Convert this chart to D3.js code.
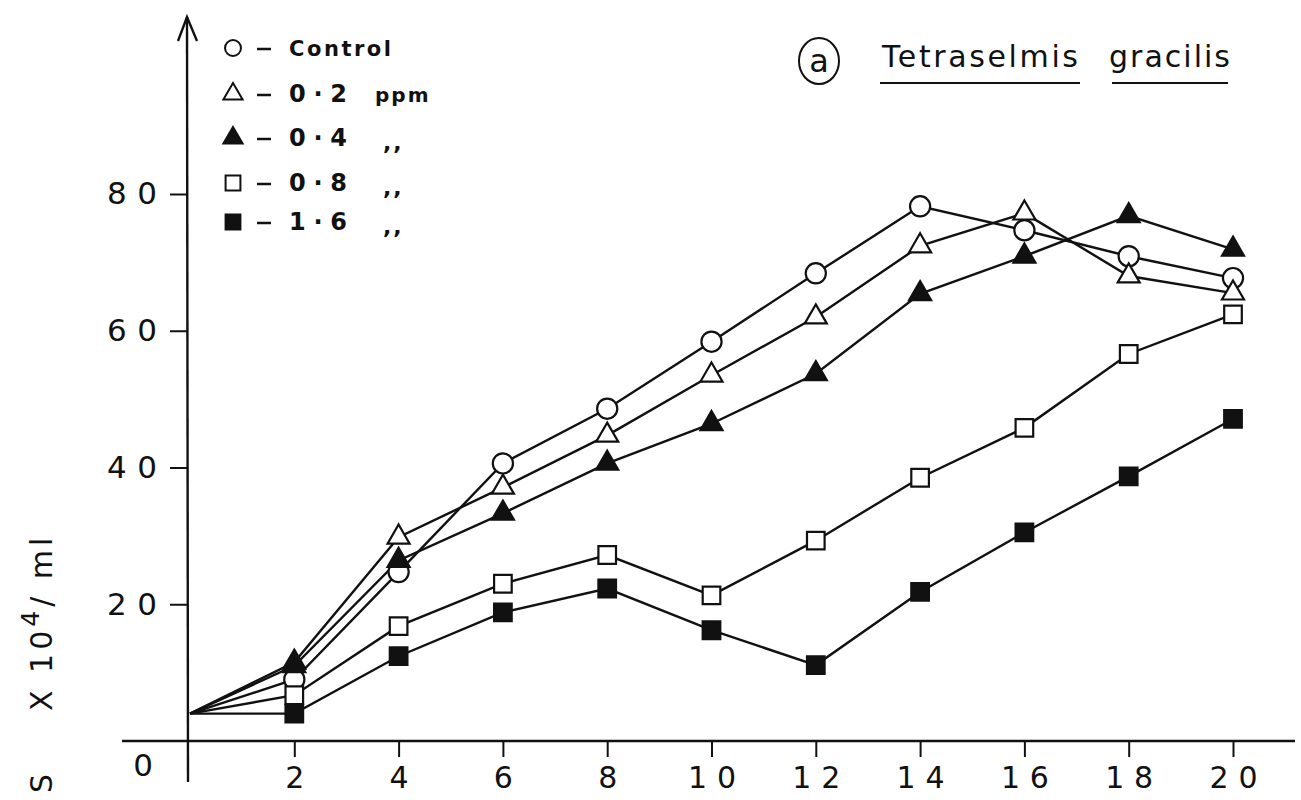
<!DOCTYPE html>
<html>
<head>
<meta charset="utf-8">
<script src="https://cdn.jsdelivr.net/npm/d3@7"></script>
<style>
  body { margin: 0; background: #fff; }
  svg { display: block; }
  text { fill: #111; font-family: "DejaVu Sans", sans-serif; }
  .tick line { stroke: #111; stroke-width: 2; }
</style>
</head>
<body>
<script>
// days of culture
var days = [0, 2, 4, 6, 8, 10, 12, 14, 16, 18, 20];

// cell counts (x 10^4 / ml)
var control = [4, 9.0, 24.7, 40.6, 48.6, 58.4, 68.4, 78.2, 74.7, 70.9, 67.7];
var ppm02   = [4, 11.5, 29.8, 37.1, 44.7, 53.5, 62.0, 72.4, 77.2, 68.0, 65.5];
var ppm04   = [4, 11.0, 26.4, 33.3, 40.6, 46.4, 53.7, 65.4, 70.9, 76.8, 71.9];
var ppm08   = [4, 6.7, 16.8, 23.0, 27.2, 21.3, 29.3, 38.5, 45.8, 56.6, 62.4];
var ppm16   = [4, 4.0, 12.4, 18.8, 22.3, 16.2, 11.1, 21.8, 30.5, 38.7, 47.1];

var xTicks = [2, 4, 6, 8, 10, 12, 14, 16, 18, 20];
var yTicks = [20, 40, 60, 80];

var series = [
  {name: "Control", unit: "", values: control, shape: d3.symbolCircle, filled: false},
  {name: "0·2", unit: "ppm", values: ppm02, shape: d3.symbolTriangle, filled: false},
  {name: "0·4", unit: ",,", values: ppm04, shape: d3.symbolTriangle, filled: true},
  {name: "0·8", unit: ",,", values: ppm08, shape: d3.symbolSquare, filled: false},
  {name: "1·6", unit: ",,", values: ppm16, shape: d3.symbolSquare, filled: true}
];

var width = 1301, height = 800;

var svg = d3.select("body").append("svg")
    .attr("width", width)
    .attr("height", height);

var x = d3.scaleLinear().domain([0, 20]).range([190, 1233]);
var y = d3.scaleLinear().domain([0, 80]).range([741, 194]);

// axes lines (y axis overshoots below, x axis runs left past origin)
svg.append("line")
    .attr("x1", 187).attr("y1", 17).attr("x2", 188).attr("y2", 782)
    .attr("stroke", "#111").attr("stroke-width", 2.4);
svg.append("path")
    .attr("d", "M178,41 L187,17 L197,41")
    .attr("fill", "none").attr("stroke", "#111").attr("stroke-width", 2.4);
svg.append("line")
    .attr("x1", 122).attr("y1", 741).attr("x2", 1295).attr("y2", 741)
    .attr("stroke", "#111").attr("stroke-width", 2.4);

var gx = svg.append("g")
    .attr("transform", "translate(0,741)")
    .call(d3.axisBottom(x).tickValues(xTicks).tickSize(16).tickPadding(10));
gx.select(".domain").remove();
gx.selectAll("text")
    .attr("font-size", 30)
    .attr("font-family", "DejaVu Sans")
    .each(function(d) {
      if (d >= 10) d3.select(this).attr("textLength", 48).attr("lengthAdjust", "spacing");
    });

var gy = svg.append("g")
    .attr("transform", "translate(187,0)")
    .call(d3.axisLeft(y).tickValues(yTicks).tickSize(17).tickPadding(13));
gy.select(".domain").remove();
gy.selectAll("text")
    .attr("font-size", 31)
    .attr("font-family", "DejaVu Sans")
    .attr("textLength", 50)
    .attr("lengthAdjust", "spacing");

svg.append("text")
    .attr("x", 143).attr("y", 776)
    .attr("text-anchor", "middle")
    .attr("font-size", 31)
    .text("0");

// y axis label, rotated
svg.append("text")
    .attr("transform", "translate(52,793) rotate(-90)")
    .attr("font-size", 30)
    .text("S");
var yl = svg.append("text")
    .attr("transform", "translate(52,711) rotate(-90)")
    .attr("font-size", 30)
    .attr("letter-spacing", 4);
yl.append("tspan").text("X  10");
yl.append("tspan").attr("dy", -13).attr("font-size", 25).text("4");
yl.append("tspan").attr("dy", 13).text("/   ml");

// lines
var line = d3.line()
    .x(function(d, i) { return x(days[i]); })
    .y(function(d) { return y(d); });

svg.selectAll(".series")
    .data(series)
  .enter().append("path")
    .attr("class", "series")
    .attr("d", function(s) { return line(s.values); })
    .attr("fill", "none")
    .attr("stroke", "#111")
    .attr("stroke-width", 2.4);

function symbolSize(shape, big) {
  if (shape === d3.symbolCircle) return big ? 320 : 200;
  if (shape === d3.symbolTriangle) return big ? 210 : 160;
  return big ? 310 : 220;
}

// markers (skip day 0 where all lines start together)
series.forEach(function(s) {
  svg.selectAll(null)
      .data(s.values.slice(1))
    .enter().append("path")
      .attr("transform", function(d, i) { return "translate(" + x(days[i + 1]) + "," + y(d) + ")"; })
      .attr("d", d3.symbol().type(s.shape).size(symbolSize(s.shape, true)))
      .attr("fill", s.filled ? "#111" : "#fff")
      .attr("stroke", "#111")
      .attr("stroke-width", 2.2);
});

// legend
var legendY = [48, 94, 138, 183, 222];
var legend = svg.selectAll(".legend")
    .data(series)
  .enter().append("g")
    .attr("class", "legend")
    .attr("transform", function(d, i) { return "translate(0," + legendY[i] + ")"; });

legend.append("path")
    .attr("transform", "translate(233,0)")
    .attr("d", function(s) { return d3.symbol().type(s.shape).size(symbolSize(s.shape, false))(); })
    .attr("fill", function(s) { return s.filled ? "#111" : "#fff"; })
    .attr("stroke", "#111")
    .attr("stroke-width", 2);

legend.append("line")
    .attr("x1", 257).attr("x2", 271).attr("y1", 1).attr("y2", 1)
    .attr("stroke", "#111").attr("stroke-width", 2.5);

legend.append("text")
    .attr("x", 289).attr("y", 8)
    .attr("font-size", function(s) { return s.unit ? 24 : 21; })
    .attr("font-weight", "bold")
    .attr("textLength", function(s) { return s.unit ? 58 : 102; })
    .attr("lengthAdjust", "spacing")
    .text(function(s) { return s.name; });

legend.append("text")
    .attr("x", function(s) { return s.unit === "ppm" ? 375 : 383; })
    .attr("y", function(s) { return s.unit === "ppm" ? 8 : 12; })
    .attr("font-size", function(s) { return s.unit === "ppm" ? 20 : 22; })
    .attr("font-weight", "bold")
    .attr("letter-spacing", 2)
    .text(function(s) { return s.unit; });

// title
svg.append("ellipse")
    .attr("cx", 819).attr("cy", 61).attr("rx", 20).attr("ry", 23)
    .attr("fill", "none").attr("stroke", "#111").attr("stroke-width", 2);
svg.append("text")
    .attr("x", 819).attr("y", 72)
    .attr("text-anchor", "middle")
    .attr("font-size", 32)
    .text("a");
svg.append("text")
    .attr("x", 882).attr("y", 67)
    .attr("font-size", 30)
    .attr("textLength", 196).attr("lengthAdjust", "spacing")
    .text("Tetraselmis");
svg.append("text")
    .attr("x", 1109).attr("y", 67)
    .attr("font-size", 30)
    .attr("textLength", 121).attr("lengthAdjust", "spacing")
    .text("gracilis");
svg.append("line")
    .attr("x1", 880).attr("x2", 1080).attr("y1", 83).attr("y2", 83)
    .attr("stroke", "#111").attr("stroke-width", 2.2);
svg.append("line")
    .attr("x1", 1112).attr("x2", 1228).attr("y1", 83).attr("y2", 83)
    .attr("stroke", "#111").attr("stroke-width", 2.2);
</script>
</body>
</html>
